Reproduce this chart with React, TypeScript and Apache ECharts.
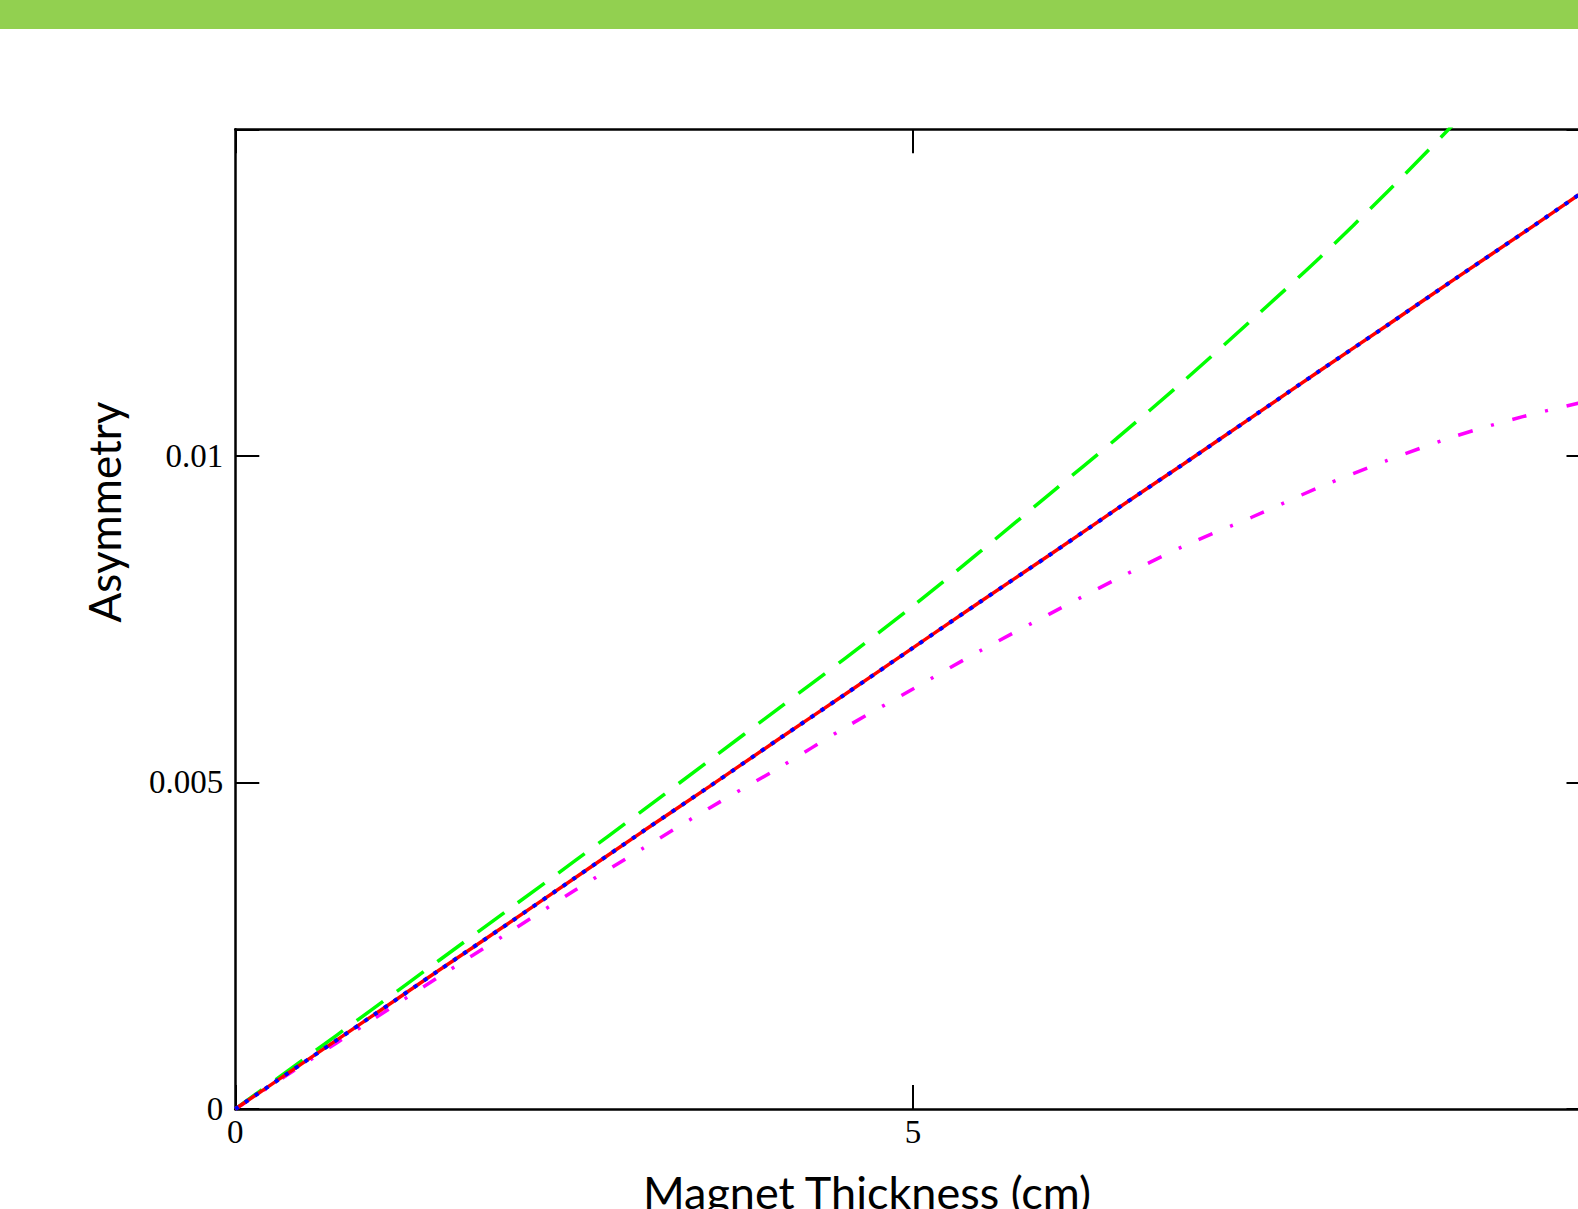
import React, { useEffect, useRef } from "react";
import * as echarts from "echarts";

// Magnet thickness (cm)
const X_VALUES = [0, 0.5, 1, 1.5, 2, 2.5, 3, 3.5, 4, 4.5, 5, 5.5, 6, 6.5, 7, 7.5, 8, 8.5, 9, 9.5, 10];
// Red solid curve
const RED_Y = [0, 0.000706, 0.00141, 0.00212, 0.00282, 0.00353, 0.00424, 0.00494, 0.00565, 0.00635, 0.00706, 0.00777, 0.00847, 0.00918, 0.00988, 0.01059, 0.0113, 0.012, 0.01271, 0.01341, 0.01412];
// Blue dotted curve (lies on the red one)
const BLUE_Y = [0, 0.000706, 0.00141, 0.00212, 0.00282, 0.00353, 0.00424, 0.00494, 0.00565, 0.00635, 0.00706, 0.00777, 0.00847, 0.00918, 0.00988, 0.01059, 0.0113, 0.012, 0.01271, 0.01341, 0.01412];
// Green dashed curve
const GREEN_Y = [0, 0.000755, 0.00151, 0.00227, 0.00303, 0.00379, 0.00456, 0.00534, 0.00612, 0.0069, 0.0077, 0.00854, 0.0094, 0.01026, 0.01115, 0.01208, 0.01303, 0.01404, 0.0151, 0.0162, 0.01735];
// Magenta dash-dot curve
const MAGENTA_Y = [0, 0.00068, 0.00135, 0.00202, 0.00268, 0.00334, 0.00398, 0.00461, 0.00521, 0.00584, 0.00643, 0.00702, 0.00757, 0.00811, 0.00862, 0.00906, 0.00952, 0.00993, 0.0103, 0.0106, 0.01085];

const X_TICK_LABELS = ["0", "5"];
const Y_TICK_LABELS = ["0", "0.005", "0.01"];

const X_TITLE = "Magnet Thickness (cm)";
const Y_TITLE = "Asymmetry";

const W = 1578;
const H = 1209;
const CANVAS_W = 1604; // plot box runs past the right edge of the window

function pairs(ys: number[]) {
  return X_VALUES.map((x, i) => [x, ys[i]]);
}

export default function App() {
  const ref = useRef<HTMLDivElement>(null);
  useEffect(() => {
    if (!ref.current) return;
    const chart = echarts.init(ref.current, undefined, { renderer: "svg" });
    const tickFont = { fontFamily: "Liberation Serif", fontSize: 33, color: "#000" };
    const axisLine = { show: true, onZero: false, lineStyle: { color: "#000", width: 2.5 } };
    const axisTick = { show: true, inside: true, length: 24, lineStyle: { color: "#000", width: 2 } };
    const xFmt = (v: number) => {
      const s = String(v);
      return X_TICK_LABELS.includes(s) ? s : "";
    };
    const yFmt = (v: number) => {
      const s = String(v);
      return Y_TICK_LABELS.includes(s) ? s : "";
    };
    chart.setOption({
      animation: false,
      backgroundColor: "#fff",
      grid: { left: 235.3, top: 129.3, right: CANVAS_W - 1590.5, bottom: H - 1109, containLabel: false },
      xAxis: [
        {
          type: "value", min: 0, max: 10, interval: 5, position: "bottom",
          axisLine, axisTick, splitLine: { show: false },
          axisLabel: { ...tickFont, margin: 6, formatter: xFmt },
        },
        {
          type: "value", min: 0, max: 10, interval: 5, position: "top",
          axisLine, axisTick, splitLine: { show: false },
          axisLabel: { show: false },
        },
      ],
      yAxis: [
        {
          type: "value", min: 0, max: 0.015, interval: 0.005, position: "left",
          axisLine, axisTick, splitLine: { show: false },
          axisLabel: { ...tickFont, margin: 12, formatter: yFmt },
        },
        {
          type: "value", min: 0, max: 0.015, interval: 0.005, position: "right",
          axisLine, axisTick, splitLine: { show: false },
          axisLabel: { show: false },
        },
      ],
      graphic: [
        { type: "rect", left: 0, top: 0, shape: { x: 0, y: 0, width: CANVAS_W, height: 29 }, style: { fill: "#92D050" }, silent: true },
        {
          type: "text", x: 867, y: 1192,
          style: { text: X_TITLE, font: "45px Lato", fill: "#000", textAlign: "center", textVerticalAlign: "middle" },
        },
        {
          type: "text", x: 104, y: 512, rotation: Math.PI / 2,
          style: { text: Y_TITLE, font: "44px Lato", fill: "#000", textAlign: "center", textVerticalAlign: "middle" },
        },
      ],
      series: [
        {
          type: "line", name: "green", data: pairs(GREEN_Y), showSymbol: false, smooth: 0.3, clip: true,
          lineStyle: { color: "#00FF00", width: 3.5, type: [33, 17] },
        },
        {
          type: "line", name: "magenta", data: pairs(MAGENTA_Y), showSymbol: false, smooth: 0.3, clip: true,
          lineStyle: { color: "#FF00FF", width: 3.5, type: [15, 19, 3, 19] },
        },
        {
          type: "line", name: "red", data: pairs(RED_Y), showSymbol: false, smooth: 0.3, clip: true,
          lineStyle: { color: "#FF0000", width: 3.5, type: "solid" },
        },
        {
          type: "line", name: "blue", data: pairs(BLUE_Y), showSymbol: false, smooth: 0.3, clip: true,
          lineStyle: { color: "#0000FF", width: 4, type: [4, 8] },
        },
      ],
    });
    return () => chart.dispose();
  }, []);
  return (
    <div
      ref={ref}
      style={{ position: "fixed", left: 0, top: 0, width: CANVAS_W, height: H, background: "#fff" }}
    />
  );
}
